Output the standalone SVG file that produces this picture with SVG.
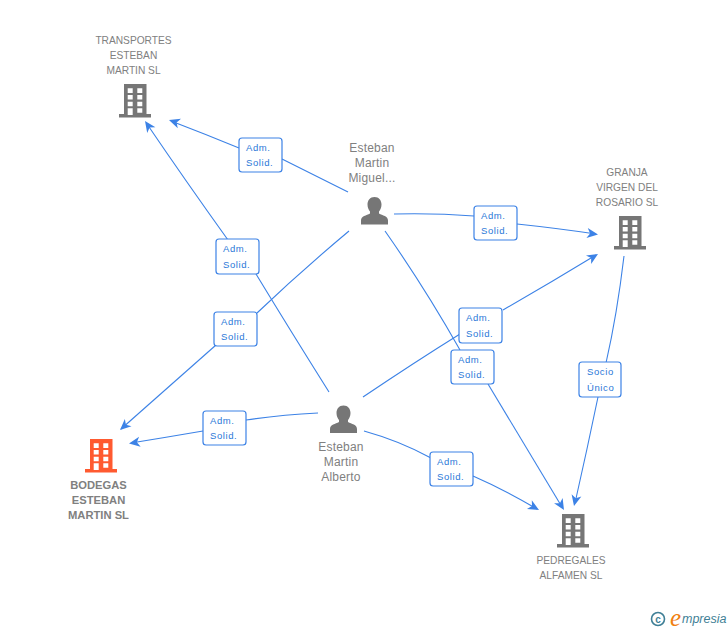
<svg xmlns="http://www.w3.org/2000/svg" width="728" height="630" viewBox="0 0 728 630">
<style>
text{font-family:"Liberation Sans",Arial,sans-serif}
.n{font-size:10.2px;fill:#808080;text-anchor:middle}
.p{font-size:12px;fill:#808080;text-anchor:middle;letter-spacing:.2px}
.b{font-size:11.2px;font-weight:bold;fill:#808080;text-anchor:middle}
.c{fill:none;stroke:#3c82e6;stroke-width:1.1}
.a{fill:#3c82e6;stroke:none}
.lb{fill:#fff;stroke:#3c82e6;stroke-width:1.2}
.lt{font-size:9.5px;fill:#2a78d8;letter-spacing:.6px}
</style>
<defs>
<path id="h" class="a" d="M0 0L-11 -5L-8 0L-11 5Z"/>
<g id="bld"><path fill-rule="evenodd" d="M-11 0H11.500V30H16V33.500H-16V30H-11ZM-7.300 4.300V9H-2.300V4.300ZM2.300 4.300V9H7.300V4.300ZM-7.300 11V15.500H-2.300V11ZM2.300 11V15.500H7.300V11ZM-7.300 17.700V22.200H-2.300V17.700ZM2.300 17.700V22.200H7.300V17.700ZM-7.300 24.300V31H-2.300V24.300ZM2.300 24.300V28.800H7.300V24.300Z"/></g>
<g id="per"><path d="M0 0C4.500 0 7 3.500 7 7.500C7 10.500 5.800 13 4.500 14.500V16.500C8 18.500 13.500 19 13.500 23.500V27.500H-13.500V23.500C-13.500 19 -8 18.500 -4.500 16.500V14.500C-5.800 13 -7 10.500 -7 7.500C-7 3.500 -4.500 0 0 0Z"/></g>
</defs>

<g id="connectors">
<path class="c" d="M348 192Q310 173 282 159"/>
<path class="c" d="M239 148Q205 134 171 121"/>
<use href="#h" transform="translate(169 120) rotate(199)"/>
<path class="c" d="M329 392Q290 330 256 274"/>
<path class="c" d="M228 240Q185 180 147 124"/>
<use href="#h" transform="translate(145 121) rotate(235)"/>
<path class="c" d="M394 214Q435 213 474 216"/>
<path class="c" d="M517 224Q555 228 596 234"/>
<use href="#h" transform="translate(598 234.500) rotate(8)"/>
<path class="c" d="M349 231Q300 272 257 313"/>
<path class="c" d="M216 345Q165 390 121 429"/>
<use href="#h" transform="translate(120 430) rotate(138)"/>
<path class="c" d="M385 231Q425 288 460 350"/>
<path class="c" d="M488 384Q525 445 562 507"/>
<use href="#h" transform="translate(564 510) rotate(59)"/>
<path class="c" d="M363 397Q415 362 460 334"/>
<path class="c" d="M503 310Q550 283 596 255"/>
<use href="#h" transform="translate(598 254) rotate(-31)"/>
<path class="c" d="M624 256Q617 315 606 363"/>
<path class="c" d="M598 397Q587 450 575 503"/>
<use href="#h" transform="translate(574 506) rotate(103)"/>
<path class="c" d="M318 413Q280 415 246 420"/>
<path class="c" d="M203 431Q168 437 131 443"/>
<use href="#h" transform="translate(129 443.500) rotate(171)"/>
<path class="c" d="M364 431Q400 441 431 458"/>
<path class="c" d="M473 476Q505 490 537 509"/>
<use href="#h" transform="translate(539 510) rotate(29)"/>
</g>

<g id="edge-labels">
<g id="l1"><rect class="lb" x="239" y="138" width="43" height="34" rx="3"/><text class="lt" x="246" y="151">Adm.</text><text class="lt" x="246" y="166">Solid.</text></g>
<g id="l2"><rect class="lb" x="216" y="239" width="43" height="35" rx="3"/><text class="lt" x="223" y="252">Adm.</text><text class="lt" x="223" y="268">Solid.</text></g>
<g id="l3"><rect class="lb" x="474" y="206" width="43" height="34" rx="3"/><text class="lt" x="481" y="219">Adm.</text><text class="lt" x="481" y="234">Solid.</text></g>
<g id="l4"><rect class="lb" x="214" y="312" width="43" height="34" rx="3"/><text class="lt" x="221" y="325">Adm.</text><text class="lt" x="221" y="340">Solid.</text></g>
<g id="l5"><rect class="lb" x="459" y="308" width="43" height="35" rx="3"/><text class="lt" x="466" y="321">Adm.</text><text class="lt" x="466" y="337">Solid.</text></g>
<g id="l6"><rect class="lb" x="451" y="350" width="43" height="34" rx="3"/><text class="lt" x="458" y="363">Adm.</text><text class="lt" x="458" y="378">Solid.</text></g>
<g id="l7"><rect class="lb" x="579" y="362" width="42" height="35" rx="3"/><text class="lt" x="587" y="375">Socio</text><text class="lt" x="587" y="391">Único</text></g>
<g id="l8"><rect class="lb" x="203" y="411" width="43" height="34" rx="3"/><text class="lt" x="210" y="424">Adm.</text><text class="lt" x="210" y="439">Solid.</text></g>
<g id="l9"><rect class="lb" x="430" y="452" width="43" height="34" rx="3"/><text class="lt" x="437" y="465">Adm.</text><text class="lt" x="437" y="480">Solid.</text></g>
</g>

<g id="transportes"><use href="#bld" x="135" y="84" fill="#767676"/><text class="n" x="133.500" y="44">TRANSPORTES</text><text class="n" x="133.500" y="59">ESTEBAN</text><text class="n" x="133.500" y="74">MARTIN SL</text></g>
<g id="granja"><use href="#bld" x="630" y="216" fill="#767676"/><text class="n" x="627" y="176">GRANJA</text><text class="n" x="627" y="191">VIRGEN DEL</text><text class="n" x="627" y="206">ROSARIO SL</text></g>
<g id="bodegas"><use href="#bld" x="101" y="439" fill="#ff5a30"/><text class="b" x="98.500" y="489">BODEGAS</text><text class="b" x="98.500" y="504">ESTEBAN</text><text class="b" x="98.500" y="519">MARTIN SL</text></g>
<g id="pedregales"><use href="#bld" x="573" y="514" fill="#767676"/><text class="n" x="571" y="564">PEDREGALES</text><text class="n" x="571" y="579">ALFAMEN SL</text></g>
<g id="miguel"><use href="#per" x="374.500" y="197" fill="#767676"/><text class="p" x="372" y="152">Esteban</text><text class="p" x="372" y="167">Martin</text><text class="p" x="372" y="182">Miguel...</text></g>
<g id="alberto"><use href="#per" x="343.500" y="405.500" fill="#767676"/><text class="p" x="341" y="451">Esteban</text><text class="p" x="341" y="466">Martin</text><text class="p" x="341" y="481">Alberto</text></g>

<g id="logo">
<circle cx="658" cy="619" r="6.500" fill="none" stroke="#3f7f96" stroke-width="1.600"/>
<text x="658" y="622.500" font-size="10" fill="#3f7f96" text-anchor="middle" font-weight="bold">c</text>
<text x="670" y="626" font-size="25" fill="#f08010" font-style="italic" style="font-family:'Liberation Serif',serif">e</text>
<text x="682" y="623" font-size="12.500" fill="#3f7f96" font-style="italic">mpresia</text>
</g>
</svg>
